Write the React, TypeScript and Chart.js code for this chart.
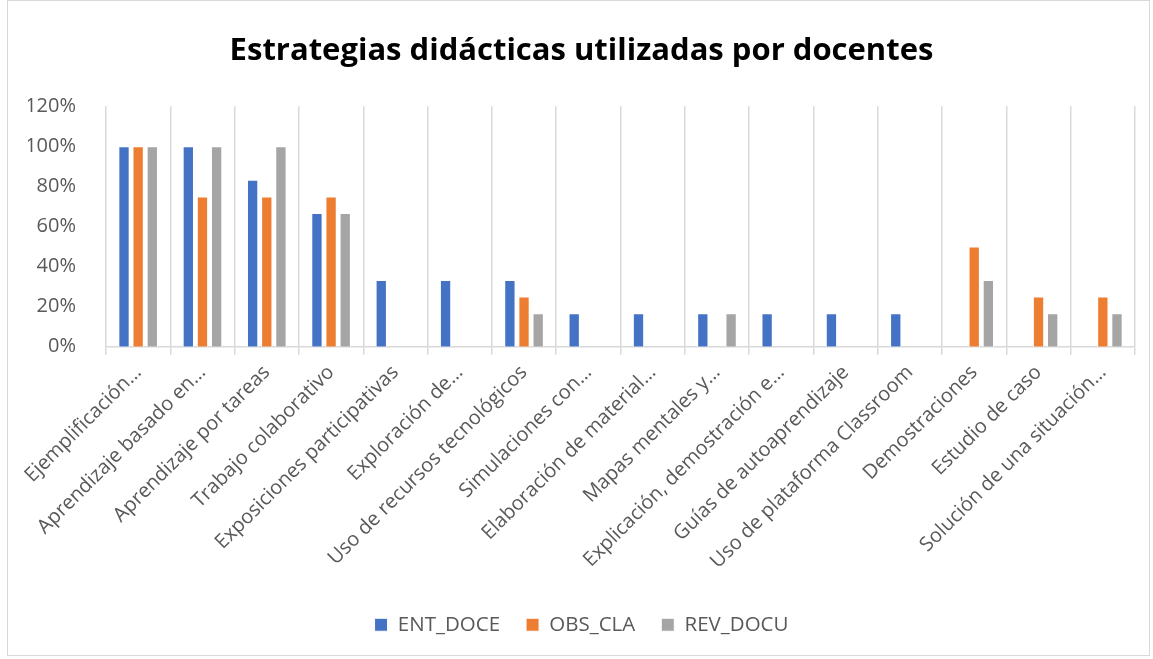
import React, { useEffect, useRef } from "react";
import { Chart, registerables } from "chart.js";

Chart.register(...registerables);

const categories = [
  "Ejemplificación…",
  "Aprendizaje basado en…",
  "Aprendizaje por tareas",
  "Trabajo colaborativo",
  "Exposiciones participativas",
  "Exploración de…",
  "Uso de recursos tecnológicos",
  "Simulaciones con…",
  "Elaboración de material…",
  "Mapas mentales y…",
  "Explicación, demostración e…",
  "Guías de autoaprendizaje",
  "Uso de plataforma Classroom",
  "Demostraciones",
  "Estudio de caso",
  "Solución de una situación…",
];

const entDoce = [1, 1, 0.833, 0.667, 0.333, 0.333, 0.333, 0.167, 0.167, 0.167, 0.167, 0.167, 0.167, 0, 0, 0];
const obsCla = [1, 0.75, 0.75, 0.75, 0, 0, 0.25, 0, 0, 0, 0, 0, 0, 0.5, 0.25, 0.25];
const revDocu = [1, 1, 1, 0.667, 0, 0, 0.167, 0, 0, 0.167, 0, 0, 0, 0.333, 0.167, 0.167];

const seriesNames = ["ENT_DOCE", "OBS_CLA", "REV_DOCU"];
const seriesColors = ["#4472C4", "#ED7D31", "#A5A5A5"];
const titleText = "Estrategias didácticas utilizadas por docentes";

export default function App() {
  const ref = useRef<HTMLCanvasElement>(null);
  useEffect(() => {
    if (!ref.current) return;
    const font = "'Open Sans', 'Noto Sans', sans-serif";
    const values = [entDoce, obsCla, revDocu];
    const chart = new Chart(ref.current, {
      type: "bar",
      data: {
        labels: categories,
        datasets: seriesNames.map((n, i) => ({
          label: n,
          data: values[i],
          backgroundColor: seriesColors[i],
          borderColor: "#ffffff",
          borderWidth: 1,
          categoryPercentage: 0.66,
          barPercentage: 0.8,
        })),
      },
      options: {
        responsive: false,
        animation: false,
        maintainAspectRatio: false,
        layout: { padding: { left: 28, right: 18, top: 14, bottom: 14 } },
        plugins: {
          title: {
            display: true,
            text: titleText,
            color: "#000000",
            font: { family: font, size: 31, weight: "bold" },
            padding: { top: 19, bottom: 36 },
          },
          legend: {
            position: "bottom",
            labels: {
              color: "#595959",
              font: { family: font, size: 20.5 },
              boxWidth: 13,
              boxHeight: 13,
              padding: 26,
            },
          },
          tooltip: { enabled: false },
        },
        scales: {
          x: {
            grid: {
              display: true,
              color: "#D9D9D9",
              lineWidth: 1.5,
              offset: true,
              tickLength: 8,
            },
            border: { display: true, color: "#D9D9D9", width: 1.5 },
            ticks: {
              color: "#595959",
              font: { family: font, size: 20 },
              minRotation: 45,
              maxRotation: 45,
              autoSkip: false,
              padding: 6,
            },
            afterFit: (scale: any) => {
              scale.height += 9;
            },
          },
          y: {
            min: 0,
            max: 1.2,
            grid: { display: false },
            border: { display: false },
            ticks: {
              stepSize: 0.2,
              color: "#595959",
              font: { family: font, size: 20 },
              padding: 22,
              callback: (v: any) => Math.round(Number(v) * 100) + "%",
            },
            afterFit: (scale: any) => {
              scale.width = 78;
            },
          },
        },
      },
    });
    return () => chart.destroy();
  }, []);
  return (
    <div style={{ position: "absolute", left: 0, top: 0, width: 1153, height: 659, background: "#fff" }}>
      <div
        style={{
          position: "absolute",
          left: 7,
          top: 0,
          width: 1143,
          height: 656,
          border: "1px solid #D9D9D9",
          boxSizing: "border-box",
        }}
      />
      <canvas ref={ref} width={1153} height={659} style={{ position: "absolute", left: 0, top: 0 }} />
    </div>
  );
}
